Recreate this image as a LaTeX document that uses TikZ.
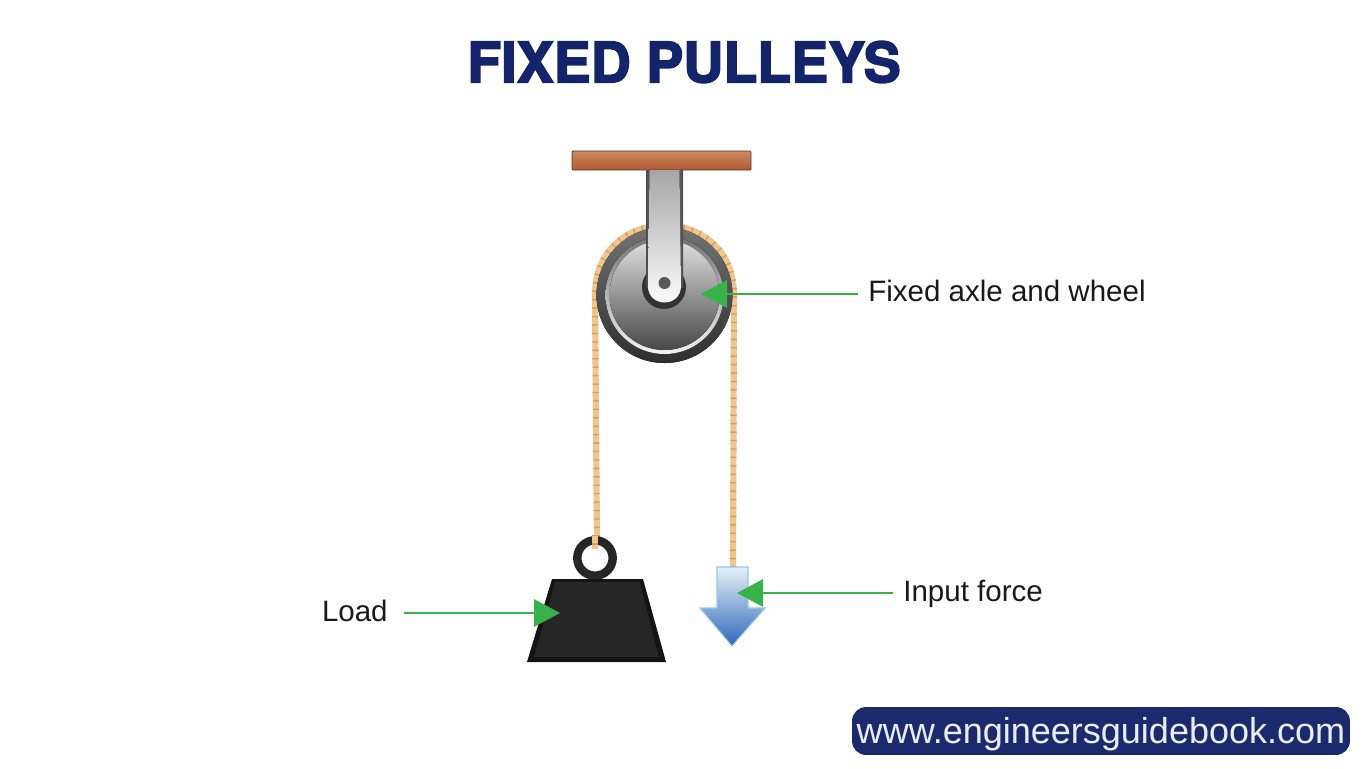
\documentclass[tikz,border=0pt]{standalone}
\usepackage{fontspec}
\setmainfont{Liberation Sans}
\newfontfamily\titlefont{TeX Gyre Heros}[BoldFeatures={FakeBold=2.8}]
\usetikzlibrary{arrows.meta}
\definecolor{navy}{HTML}{14246B}
\definecolor{pillblue}{HTML}{1A2A6C}
\definecolor{arrowgreen}{HTML}{37B34A}
\definecolor{ropetan}{HTML}{EFC690}
\definecolor{ropedark}{HTML}{D6A062}
\definecolor{beamtop}{HTML}{CD8A62}
\definecolor{beambottom}{HTML}{AE5A32}
\definecolor{forcetop}{HTML}{E6F0F5}
\definecolor{forcemid}{HTML}{4BA6E0}
\definecolor{forcebottom}{HTML}{2F68BC}
\tikzset{
  lbl/.style={font=\fontsize{16.8}{20}\selectfont, text=black!90, inner ysep=0pt, inner xsep=5.7pt},
  greenarrow/.style={-{Triangle[length=14.8pt,width=15.5pt]}, arrowgreen, line width=1.4pt},
  rope/.style={ropetan, line width=3.5pt},
  ropetwist/.style={ropedark, line width=3.5pt, dash pattern=on 0.8pt off 4pt},
}
\begin{document}
\begin{tikzpicture}[x=0.02cm,y=-0.02cm]
\useasboundingbox (0,0) rectangle (1366,768);
\node[font=\titlefont\bfseries\fontsize{31.6}{36}\selectfont, text=navy] (title) at (684,62) {FIXED PULLEYS};

% rope over the wheel
\def\ropepath{(597,545) -- (595,295) .. controls (595,202) and (734,202) .. (734,295) -- (733,568)}
\draw[rope] \ropepath;
\draw[ropetwist] \ropepath;

% beam
\draw[draw=beambottom!60!black, line width=0.5pt, top color=beamtop, bottom color=beambottom, rounded corners=0.5pt] (572,151) rectangle (751,170);

% wheel
\fill[top color=black!55, bottom color=black!82] (664.5,295) circle [radius=68];
\fill[top color=black!55, bottom color=black!5] (664.5,295) circle [radius=59];
\fill[top color=black!12, bottom color=black!72] (664.5,295) circle [radius=55];

% bracket
\fill[black!80] (664,287) circle [radius=22];
\fill[left color=black!70, right color=black!70, middle color=black!35] (646,170) rectangle (683,287);
\fill[top color=black!35, bottom color=white] (649.5,170) -- (648,286) .. controls (648,308) and (681,308) .. (681,286) -- (679.5,170) -- cycle;
\fill[black!65] (664.5,283) circle [radius=6];

% load
\draw[black!85, line width=4.8pt] (595,558) circle [radius=17.7];
\fill[black!92] (552,579) -- (643,579) -- (666,662) -- (527,662) -- cycle;
\fill[top color=black!85, middle color=black!68, bottom color=black!85] (555,582) -- (640,582) -- (659,657) -- (534,657) -- cycle;
\draw[rope] (595,535) -- (595,549);
\draw[ropetwist] (595,535) -- (595,549);

% down arrow
\draw[draw=forcemid!60, line width=0.6pt, top color=forcetop, middle color=forcemid, bottom color=forcebottom] (717,567) -- (748,567) -- (748,608) -- (765,608) -- (732,646) -- (700,608) -- (717,608) -- cycle;

% labels and green arrows
\coordinate (axletip) at (701,294);
\coordinate (forcetip) at (737,593);
\coordinate (loadtip) at (560,613);
\node[lbl, anchor=base west] (axlelabel) at (858,301) {Fixed axle and wheel};
\node[lbl, anchor=base west] (forcelabel) at (893,601) {Input force};
\node[lbl, inner xsep=9.1pt, anchor=base east] (loadlabel) at (404,621) {Load};
\draw[greenarrow] (axlelabel.west |- axletip) -- (axletip);
\draw[greenarrow] (forcelabel.west |- forcetip) -- (forcetip);
\draw[greenarrow] (loadlabel.east |- loadtip) -- (loadtip);

% footer
\node[fill=pillblue, text=blue!8, rounded corners=8pt, minimum width=283.4pt, minimum height=27.3pt, inner sep=0pt, text height=19pt, text depth=4.4pt, font=\fontsize{20.5}{24}\selectfont] (url) at (1101,731) {www.engineersguidebook.com};
\end{tikzpicture}
\end{document}
